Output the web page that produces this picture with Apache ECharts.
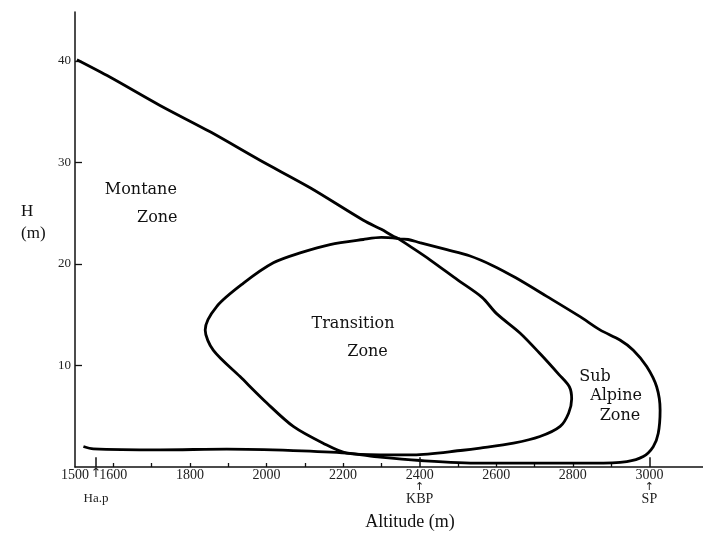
<!DOCTYPE html>
<html><head><meta charset="utf-8">
<script src="https://cdn.jsdelivr.net/npm/echarts@6/dist/echarts.min.js"></script>
<style>html,body{margin:0;padding:0;background:#fff}#c{width:703px;height:536px}</style>
</head><body><div id="c"></div>
<script>
// Montane / Sub Alpine boundary (one open curve): altitude (m) and H (m)
const outerAltitude = [1505,1591,1722,1853,1983,2114,2253,2300,2344,2370,2400,2471,2530,2590,2650,2732,2819,2871,2923,2958,2993,3019,3028,3023,3010,2984,2941,2854,2767,2558,2401,2297,2210,2070,1896,1722,1548,1522];
const outerHeight   = [40.1,38.4,35.6,33.0,30.2,27.5,24.3,23.4,22.5,22.4,22.1,21.4,20.8,19.85,18.65,16.8,14.8,13.5,12.5,11.5,9.9,7.9,5.6,3.3,2.0,1.03,0.54,0.38,0.38,0.38,0.64,0.97,1.37,1.62,1.76,1.69,1.79,2.02];
// Transition zone (closed loop)
const loopAltitude = [2344,2300,2253,2166,2090,2018,1940,1870,1840,1861,1931,2001,2070,2148,2210,2297,2384,2513,2558,2645,2714,2767,2789,2797,2791,2764,2716,2662,2601,2563,2500,2427,2380,2344];
const loopHeight   = [22.5,22.6,22.4,21.9,21.1,20.1,18.1,15.8,13.5,11.5,8.9,6.3,4.0,2.35,1.37,1.2,1.2,1.65,1.86,2.35,3.0,4.0,5.3,6.7,7.9,9.1,11.1,13.2,15.1,16.7,18.4,20.4,21.6,22.5];
// Axis ticks and labels
const xMinorTicks = [1600,1700,1800,1900,2000,2100,2200,2300,2500,2600,2700,2800,2900];
const xLabels = [1500,1600,1800,2000,2200,2400,2600,2800,3000];
const yTicks = [10,20,30,40];
// Reference points on the altitude axis
const markerAltitude = [1555,2400,3000];
const markerName = ['Ha.p','KBP','SP'];
const markerNumbered = [false,true,true];
// Zone names and their anchors (altitude, H)
const zoneText = ['Montane','Zone','Transition','Zone','Sub','Alpine','Zone'];
const zoneAltitude = [1672,1715,2226,2264,2858,2913,2923];
const zoneHeight = [27.3,24.5,14.1,11.3,8.9,7.0,5.0];

const FONT = 'Liberation Serif';
const ZFONT = 'DejaVu Serif';
const pair = (xs, ys) => xs.map((x, i) => [x, ys[i]]);

const chart = echarts.init(document.getElementById('c'), null, {renderer: 'canvas'});
chart.setOption({
  animation: false,
  backgroundColor: '#fff',
  title: {
    text: 'H\n(m)', left: 16, top: 196,
    textStyle: {fontFamily: FONT, fontSize: 17, fontWeight: 'normal', color: '#111', lineHeight: 22}
  },
  grid: {left: 75, right: 0, top: 12, bottom: 69, containLabel: false},
  xAxis: {
    type: 'value', min: 1500, max: 3140,
    name: 'Altitude (m)', nameLocation: 'middle', nameGap: 46,
    nameTextStyle: {fontFamily: FONT, fontSize: 18, color: '#111', padding: [0, 0, 0, 42]},
    axisLine: {show: true, onZero: false, lineStyle: {color: '#111', width: 1.5}},
    axisTick: {show: true, inside: true, length: 4, customValues: xMinorTicks, lineStyle: {color: '#111', width: 1.3}},
    splitLine: {show: false},
    axisLabel: {
      customValues: xLabels, margin: 1, color: '#222', fontFamily: FONT,
      showMinLabel: true, showMaxLabel: true, hideOverlap: false,
      formatter: function (v) {
        const k = markerAltitude.indexOf(v);
        if (k < 0) return '{num|' + v + '}';
        return '{num|' + v + '}\n{arrow|↑}\n{near|' + markerName[k] + '}';
      },
      rich: {
        num: {fontFamily: FONT, fontSize: 14, lineHeight: 14, color: '#222'},
        arrow: {fontFamily: 'DejaVu Sans', fontSize: 11, lineHeight: 10, color: '#222'},
        near: {fontFamily: FONT, fontSize: 14, lineHeight: 14, color: '#222'}
      }
    }
  },
  yAxis: {
    type: 'value', min: 0, max: 44.8, interval: 10,
    axisLine: {show: true, onZero: false, lineStyle: {color: '#111', width: 1.5}},
    axisTick: {show: true, inside: true, length: 7, customValues: yTicks, lineStyle: {color: '#111', width: 1.3}},
    splitLine: {show: false},
    axisLabel: {customValues: yTicks, margin: 4, color: '#222', fontFamily: FONT, fontSize: 13}
  },
  series: [
    {
      type: 'line', name: 'boundary', data: pair(outerAltitude, outerHeight),
      smooth: 0.3, symbol: 'none', clip: false,
      lineStyle: {color: '#000', width: 2.8},
      markLine: {
        silent: true, symbol: 'none',
        lineStyle: {color: '#111', width: 1.5, type: 'solid'},
        data: markerAltitude.map((a, i) => [
          {coord: [a, 0], label: markerNumbered[i] ? {show: false} : {
            show: true, position: 'start', distance: 0,
            formatter: '{a|↑}\n{b|' + markerName[i] + '}',
            rich: {
              a: {fontFamily: 'DejaVu Sans', fontSize: 13, lineHeight: 14, color: '#222'},
              b: {fontFamily: FONT, fontSize: 13, lineHeight: 36, color: '#222'}
            }
          }},
          {coord: [a, 0.95]}
        ])
      }
    },
    {
      type: 'line', name: 'transition', data: pair(loopAltitude, loopHeight),
      smooth: 0.3, symbol: 'none', clip: false,
      lineStyle: {color: '#000', width: 2.8}
    },
    {
      type: 'scatter', name: 'zones', symbolSize: 0, silent: true,
      itemStyle: {color: '#000', opacity: 1},
      data: zoneText.map((t, i) => ({value: [zoneAltitude[i], zoneHeight[i]], name: t})),
      label: {show: true, position: 'inside', formatter: p => p.name,
        fontFamily: ZFONT, fontSize: 16, color: '#111', textBorderWidth: 0, opacity: 1}
    }
  ]
});
</script>
</body></html>
